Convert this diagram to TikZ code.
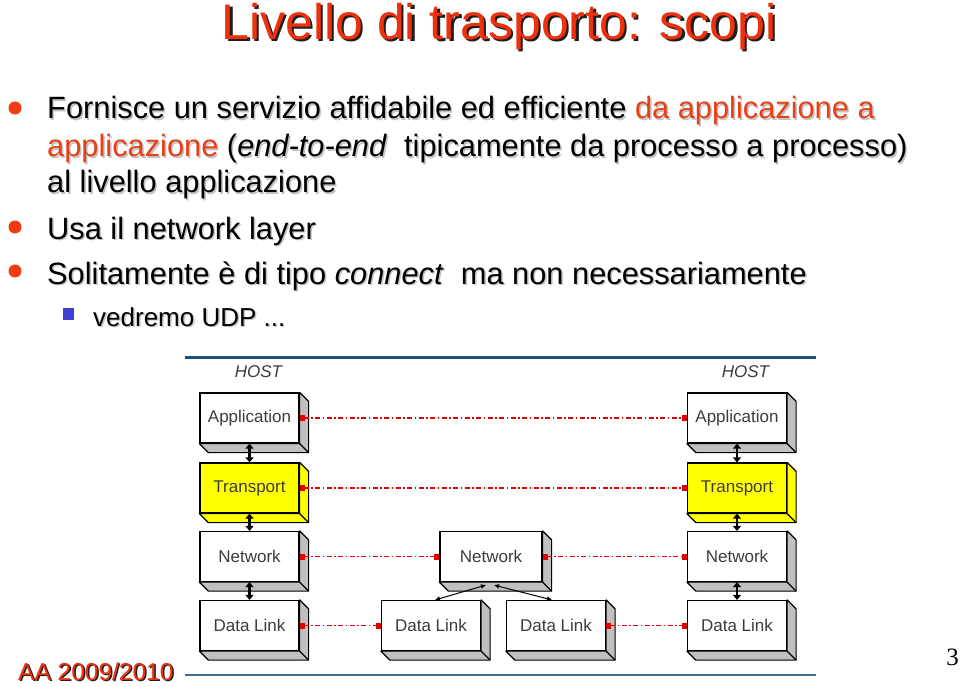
\documentclass[tikz,border=0pt]{standalone}
\usepackage{fontspec}
\setmainfont{Liberation Sans}
\newfontfamily\pagenumfont{Liberation Serif}
\usetikzlibrary{arrows.meta,calc}
\definecolor{titlered}{RGB}{238,48,12}
\definecolor{hlred}{RGB}{230,64,24}
\definecolor{bulletred}{RGB}{240,60,16}
\definecolor{sqblue}{RGB}{64,64,210}
\definecolor{rulea}{RGB}{31,78,121}
\definecolor{ruleb}{RGB}{60,110,150}
\definecolor{boxtext}{RGB}{60,60,60}
\definecolor{sidegray}{RGB}{192,192,192}
\definecolor{linkred}{RGB}{228,0,0}
\definecolor{txtshadow}{RGB}{195,195,195}
\definecolor{titleshadow}{RGB}{30,30,30}
\definecolor{tyellow}{RGB}{255,255,0}
\colorlet{hl}{hlred}
\newcommand\hlt[1]{\textcolor{hl}{#1}}
\newcommand\extrude[2]{%
  \draw[line width=1.2pt, fill=#2, line join=round]
    (#1.north east) -- ++(9,9) -- ($(#1.south east)+(9,9)$) -- ($(#1.south west)+(9,9)$)
    -- (#1.south west) -- (#1.south east) -- cycle;
  \draw[line width=1.2pt] (#1.south east) -- ++(9,9);}
\tikzset{
  body/.style={anchor=base west, inner sep=0pt, font=\fontsize{30.8}{36}\selectfont},
  sub/.style={anchor=base west, inner sep=0pt, font=\fontsize{26}{30}\selectfont},
  bulletdot/.style={circle, fill=bulletred, inner sep=0pt, minimum size=13pt},
  layerbox/.style={draw=black, line width=1.2pt, fill=white, minimum width=99pt,
    minimum height=50pt, inner sep=0pt, font=\fontsize{17}{20}\selectfont, text=boxtext},
  hostlabel/.style={font=\fontsize{17}{20}\selectfont\itshape, text=boxtext, inner sep=0pt},
  peer/.style={draw=linkred, line width=1.5pt, dash pattern=on 5pt off 2.5pt on 1.5pt off 2.5pt,
    {Square[length=5pt,width=6pt]}-{Square[length=5pt,width=6pt]}},
  updown/.style={draw=black, line width=2.5pt,
    {Triangle[length=5pt,width=8pt]}-{Triangle[length=5pt,width=8pt]}},
  fanout/.style={draw=black, line width=1pt,
    {Latex[length=5pt,width=5pt]}-{Latex[length=5pt,width=5pt]}}
}
\begin{document}
\begin{tikzpicture}[x=1pt,y=-1pt]
\fill[white] (0,0) rectangle (960,687);
\useasboundingbox (0,0) rectangle (960,687);

% title
\node[anchor=base, inner sep=0pt, font=\fontsize{50}{60}\selectfont, text=titleshadow] (titles) at (501.5,42) {Livello di trasporto: scopi};
\node[anchor=base, inner sep=0pt, font=\fontsize{50}{60}\selectfont, text=titlered] (title) at (499,39.5) {Livello di trasporto: scopi};

% bullets
\node[bulletdot] (b1) at (15,108) {};
\node[bulletdot] (b2) at (15,227) {};
\node[bulletdot] (b3) at (15,271) {};
\node[fill=sqblue, inner sep=0pt, minimum width=11pt, minimum height=12pt] (b4) at (68.5,314) {};

% body text with shadows
\node[body, text=txtshadow] (l1s) at (48.5,120.5) {\colorlet{hl}{txtshadow}Fornisce un servizio affidabile ed efficiente \hlt{da applicazione a}};
\node[body] (l1) at (47,119) {Fornisce un servizio affidabile ed efficiente \hlt{da applicazione a}};
\node[body, text=txtshadow] (l2s) at (48.5,158.5) {\colorlet{hl}{txtshadow}\hlt{applicazione} (\textit{end-to-end}\ \ tipicamente da processo a processo)};
\node[body] (l2) at (47,157) {\hlt{applicazione} (\textit{end-to-end}\ \ tipicamente da processo a processo)};
\node[body, text=txtshadow] (l3s) at (48.5,194.5) {al livello applicazione};
\node[body] (l3) at (47,193) {al livello applicazione};
\node[body, text=txtshadow] (l4s) at (48.5,240.5) {Usa il network layer};
\node[body] (l4) at (47,239) {Usa il network layer};
\node[body, text=txtshadow] (l5s) at (48.5,285.5) {Solitamente è di tipo \textit{connect}\ \ ma non necessariamente};
\node[body] (l5) at (47,284) {Solitamente è di tipo \textit{connect}\ \ ma non necessariamente};
\node[sub, text=txtshadow] (l6s) at (94.5,327.5) {vedremo UDP ...};
\node[sub] (l6) at (93,326) {vedremo UDP ...};

% diagram rules
\draw[rulea, line width=3pt] (185,357) -- (816,357);
\draw[ruleb, line width=2.5pt] (185,675) -- (816,675);

% host labels
\node[hostlabel] (hostL) at (258.5,372) {HOST};
\node[hostlabel] (hostR) at (745.5,372) {HOST};

% boxes
\node[layerbox] (appL) at (249.5,418) {Application};
\node[layerbox, fill=tyellow] (trL) at (249.5,488) {Transport};
\node[layerbox] (netL) at (249.5,556.5) {Network};
\node[layerbox] (dlL) at (249.5,625.5) {Data Link};

\node[layerbox] (appR) at (737,418) {Application};
\node[layerbox, fill=tyellow] (trR) at (737,488) {Transport};
\node[layerbox] (netR) at (737,556.5) {Network};
\node[layerbox] (dlR) at (737,625.5) {Data Link};

\node[layerbox, minimum width=102pt] (netM) at (491,556.5) {Network};
\node[layerbox] (dlM1) at (431,625.5) {Data Link};
\node[layerbox] (dlM2) at (556,625.5) {Data Link};

\extrude{appL}{sidegray}
\extrude{trL}{tyellow}
\extrude{netL}{sidegray}
\extrude{dlL}{sidegray}
\extrude{appR}{sidegray}
\extrude{trR}{tyellow}
\extrude{netR}{sidegray}
\extrude{dlR}{sidegray}
\extrude{netM}{sidegray}
\extrude{dlM1}{sidegray}
\extrude{dlM2}{sidegray}

% vertical stacks
\draw[updown] (appL.south) -- (trL.north);
\draw[updown] (trL.south) -- (netL.north);
\draw[updown] (netL.south) -- (dlL.north);
\draw[updown] (appR.south) -- (trR.north);
\draw[updown] (trR.south) -- (netR.north);
\draw[updown] (netR.south) -- (dlR.north);

% router fan-out
\draw[fanout] ($(netM.south)+(-5,3)$) -- ($(dlM1.north)+(4,0)$);
\draw[fanout] ($(netM.south)+(3,3)$) -- ($(dlM2.north)+(-4,0)$);

% peer-to-peer links
\draw[peer] (appL.east) -- (appR.west);
\draw[peer] (trL.east) -- (trR.west);
\draw[peer] (netL.east) -- (netM.west);
\draw[peer] (netM.east) -- (netR.west);
\draw[peer] (dlL.east) -- (dlM1.west);
\draw[peer] (dlM2.east) -- (dlR.west);

% footer
\node[anchor=base west, inner sep=0pt, font=\fontsize{24.5}{28}\selectfont, text=titleshadow] (foots) at (19.5,681.5) {AA 2009/2010};
\node[anchor=base west, inner sep=0pt, font=\fontsize{24.5}{28}\selectfont, text=titlered] (foot) at (18,680) {AA 2009/2010};
\node[anchor=base east, inner sep=0pt, font=\pagenumfont\fontsize{25}{28}\selectfont] (pnum) at (959,665) {3};
\end{tikzpicture}
\end{document}
